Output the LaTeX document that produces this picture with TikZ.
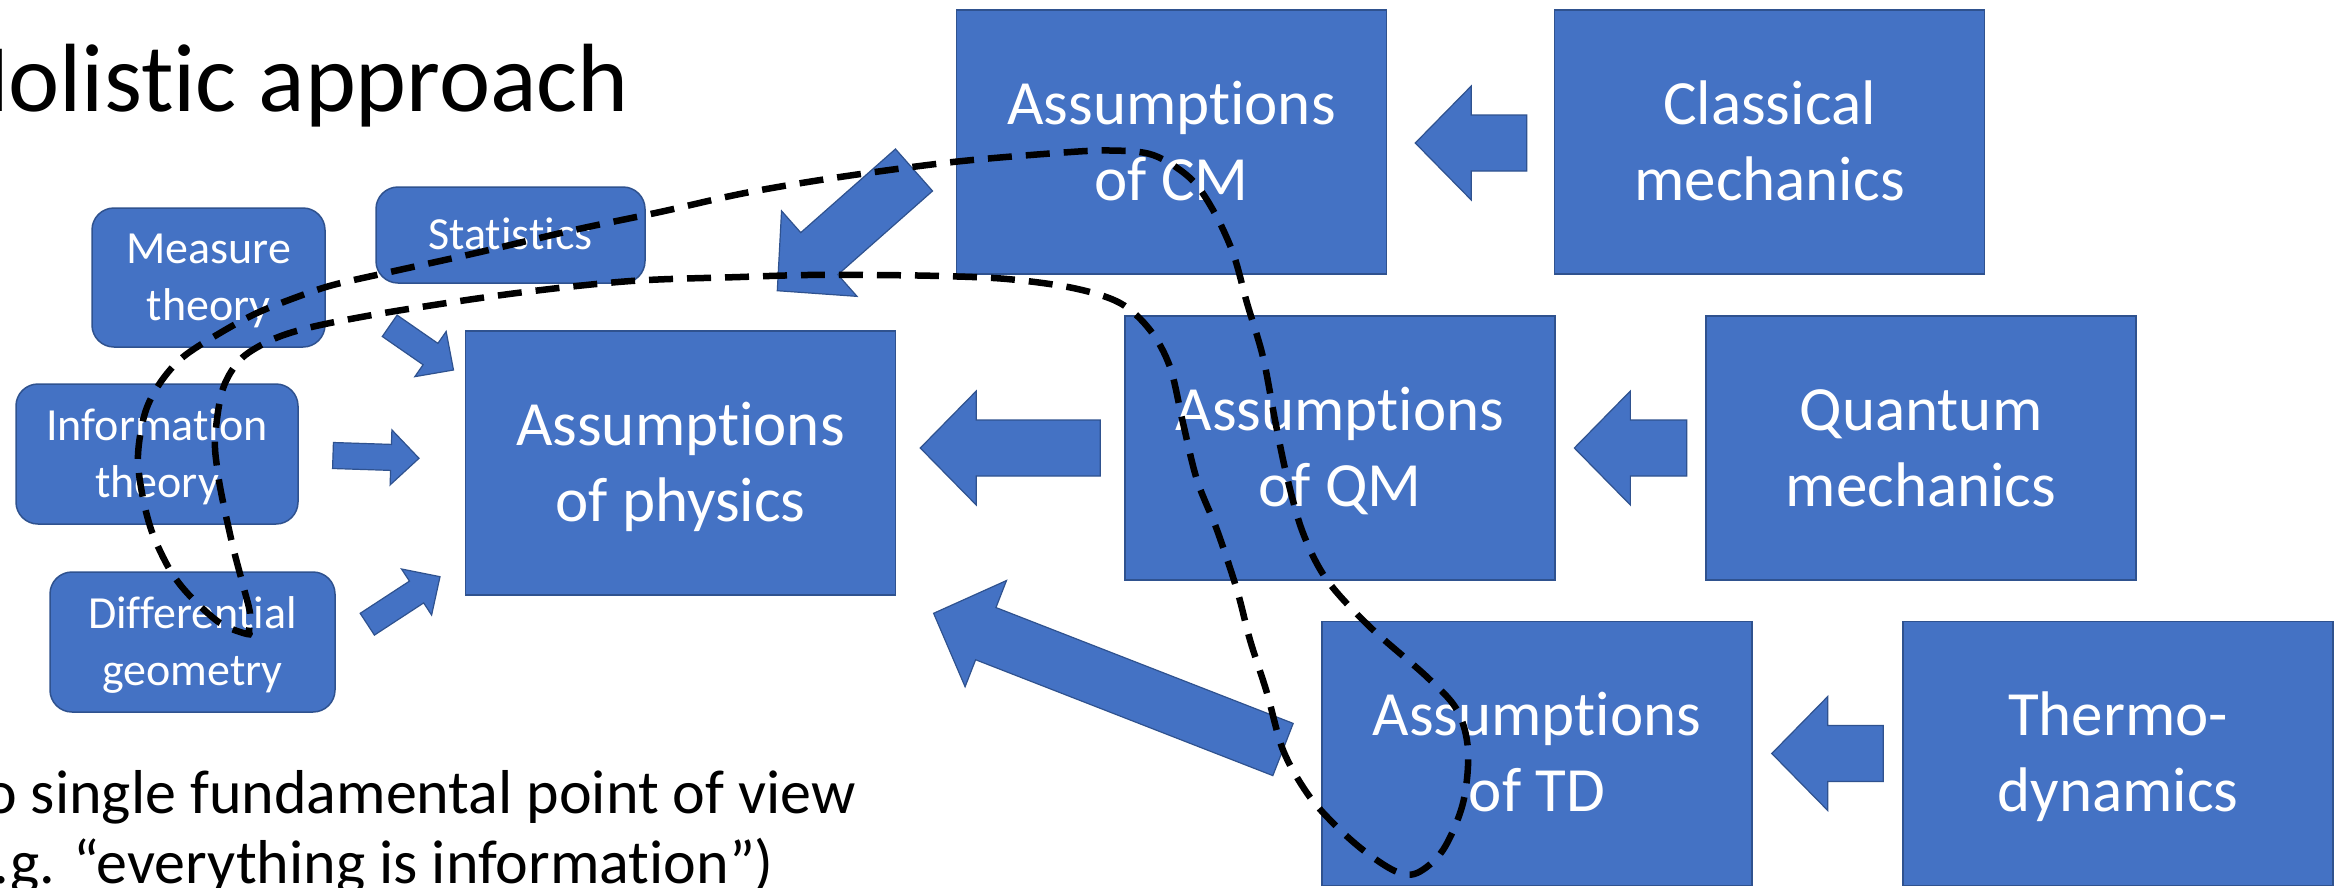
\documentclass[tikz,border=0pt]{standalone}
\usepackage{fontspec}
\setmainfont{Carlito}[Ligatures={NoCommon,NoContextual,NoRequired}]
\usetikzlibrary{calc}
\definecolor{boxblue}{HTML}{4472C4}
\definecolor{boxedge}{HTML}{2F528F}
\newcommand\bigst{\rule[-18pt]{0pt}{76pt}}
\newcommand\smallst{\rule[-13.7pt]{0pt}{56.7pt}}
% tail, tip, half shaft, half head, head length
\newcommand\blockarrow[5]{%
  \coordinate (ba-b) at ($(#2)!#5!(#1)$);
  \filldraw[arrowshape]
    ($(#1)!#3!90:(#2)$) -- ($(ba-b)!#3!-90:(#1)$) -- ($(ba-b)!#4!-90:(#1)$) --
    (#2) -- ($(ba-b)!#4!90:(#1)$) -- ($(ba-b)!#3!90:(#1)$) -- ($(#1)!#3!-90:(#2)$) -- cycle;
}
\tikzset{
  bigbox/.style={rectangle, fill=boxblue, draw=boxedge, line width=1.5pt,
    minimum width=430pt, minimum height=264pt, inner sep=0pt, text=white,
    font=\fontsize{63}{76}\selectfont, align=center},
  smallbox/.style={rectangle, rounded corners=22pt, fill=boxblue, draw=boxedge,
    line width=1.5pt, inner sep=0pt, text=white,
    font=\fontsize{46}{56.7}\selectfont, align=center},
  arrowshape/.style={fill=boxblue, draw=boxedge, line width=1.2pt, line join=miter},
  loopline/.style={black, line width=6.5pt, dash pattern=on 24pt off 14pt},
  bodytext/.style={anchor=base west, inner sep=0pt, text=black}
}
\begin{document}
\begin{tikzpicture}[x=1pt, y=-1pt]
\useasboundingbox (0,0) rectangle (2339,887);
\clip (0,0) rectangle (2339,887);
\fill[white] (0,0) rectangle (2339,887);

% title and bullet text
\node[bodytext, font=\fontsize{97}{116}\selectfont] (title) at (-52,111.7) {Holistic approach};
\node[bodytext, font=\fontsize{62}{70}\selectfont] (line1) at (-56,813.3) {No single fundamental point of view};
\node[bodytext, font=\fontsize{62}{70}\selectfont] (line2) at (-56,883.3) {(e.g. “everything is information”)};

% big boxes
\node[bigbox] (acm) at (1171.5,142) {\bigst Assumptions\\\bigst of CM};
\node[bigbox] (cm)  at (1769.5,142) {\bigst Classical\\\bigst mechanics};
\node[bigbox] (aqm) at (1340,448)   {\bigst Assumptions\\\bigst of QM};
\node[bigbox] (qm)  at (1921,448)   {\bigst Quantum\\\bigst mechanics};
\node[bigbox] (atd) at (1537,753.5) {\bigst Assumptions\\\bigst of TD};
\node[bigbox] (td)  at (2118,753.5) {\bigst Thermo-\\\bigst dynamics};
\node[bigbox] (aph) at (680.5,463)  {\bigst Assumptions\\\bigst of physics};

% small rounded boxes
\node[smallbox, minimum width=233pt, minimum height=139pt] (meas) at (208.5,277.5) {\smallst Measure\\\smallst theory};
\node[smallbox, minimum width=269pt, minimum height=96pt]  (stat) at (510.5,235)   {\smallst Statistics};
\node[smallbox, minimum width=282pt, minimum height=140pt] (info) at (157,454)     {\smallst Information\\\smallst theory};
\node[smallbox, minimum width=285pt, minimum height=140pt] (diff) at (192.5,642)   {\smallst Differential\\\smallst geometry};

% arrow end points
\coordinate (a1t) at ($(cm.west)+(-27,1)$);
\coordinate (a1h) at ($(acm.east)+(28,1)$);
\coordinate (a2t) at ($(qm.west)+(-18.5,0)$);
\coordinate (a2h) at ($(aqm.east)+(18.6,0)$);
\coordinate (a3t) at ($(aqm.west)+(-24,0)$);
\coordinate (a3h) at ($(aph.east)+(24,-15)$);
\coordinate (a4t) at ($(td.west)+(-19,0)$);
\coordinate (a4h) at ($(atd.east)+(19,0)$);
\coordinate (a5t) at (1283,749.5);
\coordinate (a5h) at (933.6,613.3);
\coordinate (a6t) at (914,170);
\coordinate (a6h) at (777.3,290.7);
\coordinate (a7t) at (389.7,325.8);
\coordinate (a7h) at (453.5,370);
\coordinate (a8t) at (333,455.5);
\coordinate (a8h) at (419,458.3);
\coordinate (a9t) at (367.3,624.2);
\coordinate (a9h) at (440,576.7);

\blockarrow{a1t}{a1h}{28pt}{57pt}{56pt}
\blockarrow{a2t}{a2h}{28pt}{57pt}{56pt}
\blockarrow{a3t}{a3h}{28pt}{57pt}{56pt}
\blockarrow{a4t}{a4h}{28pt}{57pt}{56pt}
\blockarrow{a5t}{a5h}{28pt}{57pt}{56pt}
\blockarrow{a6t}{a6h}{28pt}{57pt}{56pt}
\blockarrow{a7t}{a7h}{13pt}{27.5pt}{28pt}
\blockarrow{a8t}{a8h}{13pt}{27.5pt}{28pt}
\blockarrow{a9t}{a9h}{13pt}{27.5pt}{28pt}

% dashed loop
\draw[loopline] plot[smooth cycle, tension=0.55] coordinates {
  (247,634) (220,623) (190,596) (170,570) (152,532) (142,493) (138,455)
  (145,413) (160,383) (183,357) (220,333) (257,313) (297,297) (333,285)
  (390,272) (476,253) (574,230) (660,212) (745,193) (840,177) (953,162)
  (1057,153) (1110,150.5) (1153,155) (1190,178) (1213,210) (1233,253)
  (1247,303) (1263,357) (1275,420) (1287,477) (1303,533) (1327,580)
  (1370,627) (1427,677) (1457,710) (1468,750) (1463,803) (1443,850)
  (1417,873) (1395,871) (1363,850) (1333,823) (1307,793) (1283,750)
  (1267,693) (1250,640) (1237,590) (1217,530) (1197,480) (1183,423)
  (1170,367) (1150,330) (1120,303) (1073,288) (1007,279) (940,276)
  (873,275) (807,275) (740,277) (631,281) (517,293) (402,310) (330,323)
  (293,332) (267,342) (243,357) (228,377) (220,400) (215,440) (217,467)
  (222,497) (233,547) (243,585) (250,613) (249,630)};
\end{tikzpicture}
\end{document}
